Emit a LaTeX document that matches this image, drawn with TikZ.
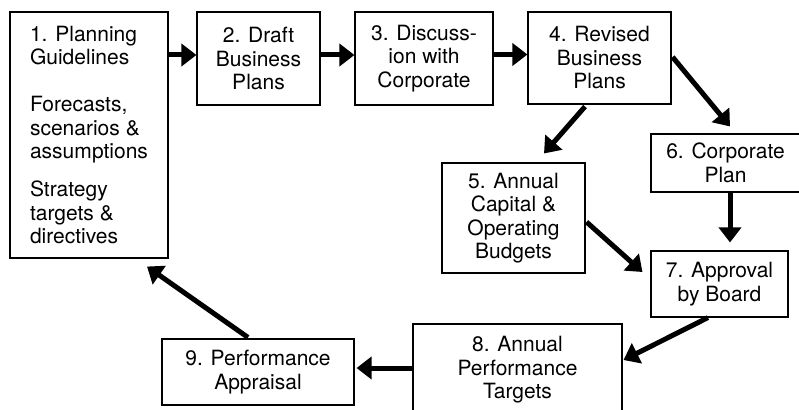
\documentclass[tikz,border=0pt]{standalone}
\usepackage{fontspec}
\setmainfont{TeX Gyre Heros}
\usetikzlibrary{arrows.meta,calc}
\begin{document}
\begin{tikzpicture}[x=1pt,y=-1pt,
  box/.style={draw,line width=1.1pt,inner sep=0pt,align=center,
    font=\fontsize{21}{23.5}\selectfont},
  flow/.style={line width=5pt,-{Triangle[length=15pt,width=22pt]}}]
\clip (0,0) rectangle (799,409);
\useasboundingbox (0,0) rectangle (799,409);
\node[box,minimum width=158pt,minimum height=246pt,align=left] (b1) at (89,135)
  {1. Planning\\Guidelines\\[23.5pt]Forecasts,\\scenarios \&\\assumptions\\[14.5pt]Strategy\\targets \&\\directives};
\node[box,minimum width=123pt,minimum height=93pt] (b2) at (258.5,58.5) {2. Draft\\Business\\Plans};
\node[box,minimum width=138pt,minimum height=93pt] (b3) at (424,58.5) {3. Discuss-\\ion with\\Corporate};
\node[box,minimum width=143pt,minimum height=92pt] (b4) at (599.5,58) {4. Revised\\Business\\Plans};
\node[box,minimum width=149pt,minimum height=58pt] (b6) at (725.5,163) {6. Corporate\\Plan};
\node[box,minimum width=143pt,minimum height=110pt] (b5) at (513.5,218) {5. Annual\\Capital \&\\Operating\\Budgets};
\node[box,minimum width=137pt,minimum height=66pt] (b7) at (719.5,284) {7. Approval\\by Board};
\node[box,minimum width=209pt,minimum height=92pt] (b8) at (517.5,370) {8. Annual\\Performance\\Targets};
\node[box,minimum width=192pt,minimum height=66pt] (b9) at (258,372) {9. Performance\\Appraisal};
\draw[flow] ([yshift=3.5pt]b2.west -| b1.east) -- ([yshift=3.5pt]b2.west);
\draw[flow] ([yshift=3.5pt]b3.west -| b2.east) -- ([yshift=3.5pt]b3.west);
\draw[flow] ([yshift=3.5pt]b4.west -| b3.east) -- ([yshift=3.5pt]b4.west);
\draw[flow] ($(b4.east)+(1,-1)$) -- ($(b6.north)+(4.5,-7)$);
\draw[flow] ($(b4.south)+(-14.5,2)$) -- ($(b5.north)+(30.5,-9)$);
\draw[flow] ($(b6.south)+(4.5,0)$) -- ($(b7.north)+(10.5,-8)$);
\draw[flow] ($(b5.east)+(1,4)$) -- ($(b7.west)+(-8,-12)$);
\draw[flow] ($(b7.south)+(-11.5,0)$) -- ($(b8.east)+(1,-10)$);
\draw[flow] ($(b8.west)+(0,-2)$) -- ($(b9.east)+(2,-4)$);
\draw[flow] ($(b9.north)+(-10,-1)$) -- ($(b1.south)+(58,8)$);
\end{tikzpicture}
\end{document}
